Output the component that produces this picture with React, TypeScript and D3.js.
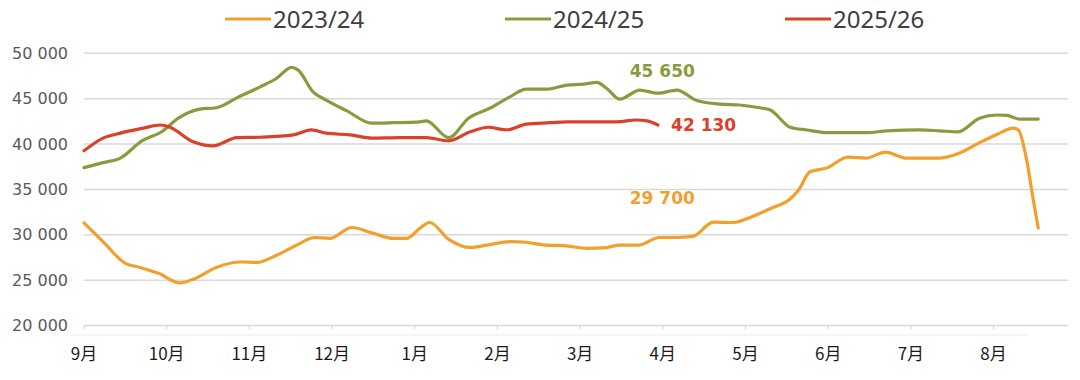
import React from "react";
import * as d3 from "d3";

const monthLabels = ["9月", "10月", "11月", "12月", "1月", "2月", "3月", "4月", "5月", "6月", "7月", "8月"];
const yTicks = [20000, 25000, 30000, 35000, 40000, 45000, 50000];

// x = months since start of Sept (fractional), v = value
const s2023x = [0, 0.23, 0.5, 0.68, 0.9, 1.16, 1.32, 1.6, 1.89, 2.09, 2.33, 2.57, 2.79, 2.97, 3.24, 3.5, 3.74, 3.9, 4.06, 4.18, 4.41, 4.67, 4.87, 5.15, 5.31, 5.6, 5.8, 6.08, 6.28, 6.48, 6.7, 6.96, 7.17, 7.37, 7.61, 7.85, 8.01, 8.17, 8.33, 8.54, 8.64, 8.78, 8.98, 9.24, 9.46, 9.69, 9.95, 10.35, 10.59, 10.83, 11.04, 11.24, 11.3, 11.4, 11.48, 11.54];
const s2023v = [31300, 29250, 26850, 26400, 25750, 24700, 25100, 26400, 27000, 26950, 27750, 28850, 29700, 29600, 30800, 30150, 29600, 29600, 30700, 31350, 29500, 28600, 28850, 29250, 29200, 28850, 28800, 28500, 28550, 28850, 28850, 29700, 29700, 29850, 31400, 31350, 31750, 32350, 33000, 33950, 34900, 36950, 37350, 38550, 38450, 39100, 38450, 38450, 39000, 40150, 41050, 41750, 41550, 38250, 33850, 30750];

const s2024x = [0, 0.23, 0.44, 0.7, 0.94, 1.14, 1.4, 1.6, 1.87, 2.13, 2.33, 2.51, 2.59, 2.77, 2.93, 3.18, 3.48, 3.74, 4.06, 4.14, 4.41, 4.65, 4.91, 5.15, 5.35, 5.6, 5.84, 6.04, 6.2, 6.32, 6.48, 6.72, 6.94, 7.17, 7.41, 7.69, 7.93, 8.17, 8.3, 8.54, 8.74, 9.02, 9.46, 9.71, 10.11, 10.35, 10.57, 10.83, 11.04, 11.16, 11.32, 11.54];
const s2024v = [37400, 37950, 38450, 40350, 41350, 42850, 43850, 44000, 45200, 46300, 47250, 48450, 48150, 45750, 44850, 43650, 42300, 42350, 42450, 42550, 40700, 42850, 43950, 45200, 46050, 46050, 46500, 46600, 46800, 46150, 44950, 45950, 45600, 45950, 44800, 44400, 44300, 44000, 43750, 41850, 41550, 41250, 41250, 41450, 41550, 41450, 41350, 42850, 43200, 43150, 42750, 42750];

const s2025x = [0, 0.23, 0.44, 0.72, 0.92, 1.04, 1.32, 1.56, 1.85, 2.13, 2.53, 2.75, 2.93, 3.22, 3.48, 3.82, 4.14, 4.41, 4.67, 4.89, 5.11, 5.35, 5.63, 5.84, 6.44, 6.68, 6.81, 6.94];
const s2025v = [39250, 40650, 41200, 41750, 42100, 41850, 40250, 39800, 40700, 40750, 41000, 41550, 41200, 41000, 40650, 40700, 40700, 40350, 41350, 41850, 41550, 42200, 42350, 42450, 42450, 42650, 42550, 42100];

const seriesNames = ["2023/24", "2024/25", "2025/26"];
const seriesColors = ["#F29F2E", "#8C9A3E", "#D9412A"];

const annotations = [
  { text: "45 650", x: 6.6, v: 45650, color: "#8C9A3E", dy: -16 },
  { text: "42 130", x: 7.1, v: 42130, color: "#D9412A", dy: 6 },
  { text: "29 700", x: 6.6, v: 29700, color: "#F29F2E", dy: -33 },
];

export default function App() {
  const W = 1080, H = 380;
  const x = d3.scaleLinear().domain([0, 11.9]).range([84, 1068]);
  const y = d3.scaleLinear().domain([20000, 50000]).range([325.5, 53.3]);
  const line = d3
    .line<[number, number]>()
    .x((d) => x(d[0]))
    .y((d) => y(d[1]))
    .curve(d3.curveMonotoneX);

  const series = [
    { xs: s2023x, vs: s2023v },
    { xs: s2024x, vs: s2024v },
    { xs: s2025x, vs: s2025v },
  ];

  const legendX = [225, 505, 785];

  return (
    <svg width={W} height={H} style={{ position: "absolute", left: 0, top: 0, background: "#fff" }}>
      {yTicks.map((t) => (
        <g key={t}>
          <line x1={x(0)} x2={x(11.9)} y1={y(t)} y2={y(t)} stroke="#d9d9d9" strokeWidth={1.5} />
          <text x={68} y={y(t)} dy="0.35em" textAnchor="end" fontFamily="DejaVu Sans, sans-serif" fontSize={16} fill="#595959">
            {d3.format(",")(t).replace(",", " ")}
          </text>
        </g>
      ))}
      <line x1={70} x2={1028} y1={335} y2={335} stroke="#eeeeee" strokeWidth={1} />
      {monthLabels.map((m, i) => (
        <g key={m}>
          <line x1={x(i)} x2={x(i)} y1={y(20000)} y2={y(20000) + 4} stroke="#d0d0d0" strokeWidth={1} />
          <text x={x(i)} y={360} textAnchor="middle" fontFamily="Noto Sans CJK SC, sans-serif" fontSize={17} fill="#1a1a1a">
            {m}
          </text>
        </g>
      ))}
      {series.map((s, i) => (
        <path
          key={i}
          d={line(s.xs.map((xv, j) => [xv, s.vs[j]] as [number, number])) || ""}
          fill="none"
          stroke={seriesColors[i]}
          strokeWidth={3.2}
          strokeLinejoin="round"
          strokeLinecap="round"
        />
      ))}
      {annotations.map((a) => (
        <text key={a.text} x={x(a.x)} y={y(a.v) + a.dy} fontFamily="DejaVu Sans, sans-serif" fontWeight="bold" fontSize={17} fill={a.color}>
          {a.text}
        </text>
      ))}
      {seriesNames.map((n, i) => (
        <g key={n}>
          <line x1={legendX[i]} x2={legendX[i] + 46} y1={19} y2={19} stroke={seriesColors[i]} strokeWidth={3} />
          <text x={legendX[i] + 48} y={19} dy="0.36em" fontFamily="Noto Sans, sans-serif" fontSize={24} fill="#404040">
            {n}
          </text>
        </g>
      ))}
    </svg>
  );
}
